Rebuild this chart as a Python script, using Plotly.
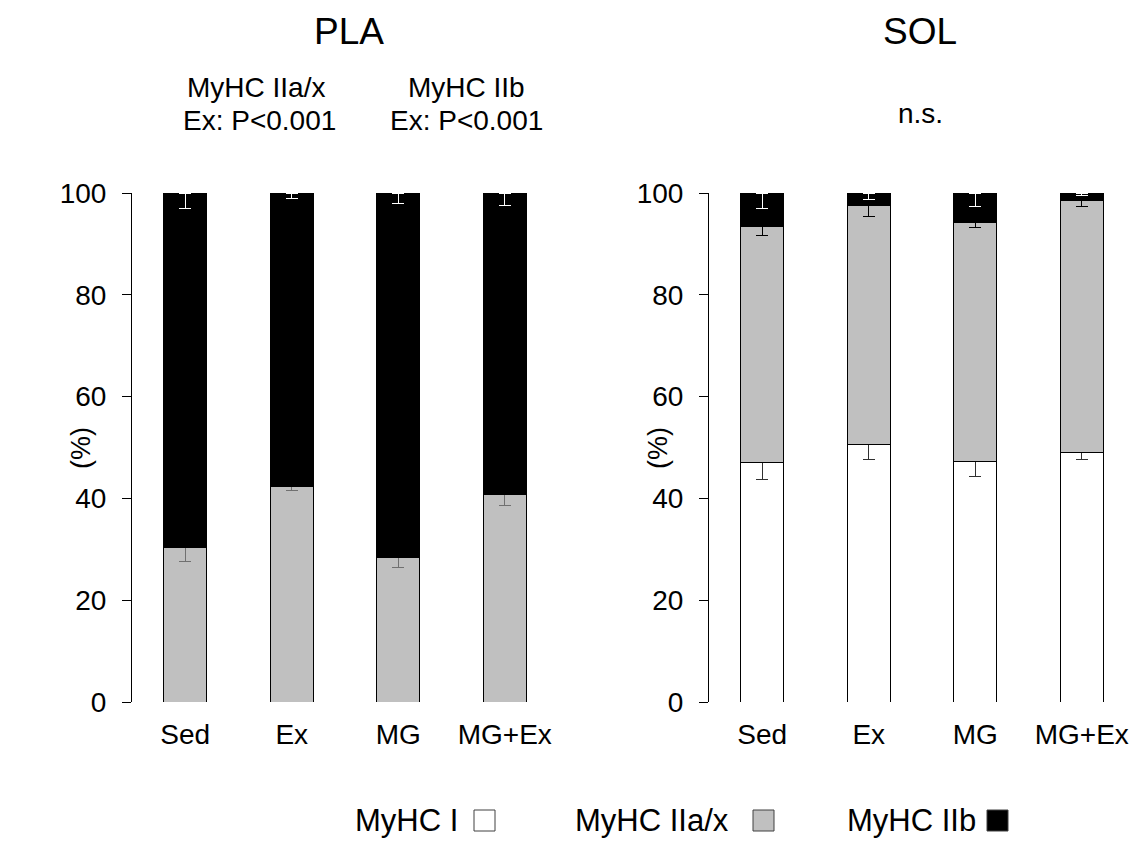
import plotly.graph_objects as go

# ---- data ----
groups = ["Sed", "Ex", "MG", "MG+Ex"]
y_ticks = [0, 20, 40, 60, 80, 100]

pla_IIax = [30.4, 42.3, 28.3, 40.8]
pla_IIax_err = [2.8, 0.8, 1.9, 2.1]
pla_IIb = [69.6, 57.7, 71.7, 59.2]
pla_IIb_err = [3.1, 1.0, 2.1, 2.4]

sol_I = [47.0, 50.5, 47.3, 49.0]
sol_I_err = [3.3, 2.8, 2.9, 1.3]
sol_IIax = [46.5, 47.0, 47.0, 49.6]
sol_IIax_err = [1.8, 2.1, 1.1, 1.3]
sol_IIb = [6.5, 2.5, 5.7, 1.4]
sol_IIb_err = [3.0, 1.3, 2.6, 0.5]

series_names = ["MyHC I", "MyHC IIa/x", "MyHC IIb"]
fill_colors = ["#ffffff", "#c0c0c0", "#000000"]

FONT = "Arial, Liberation Sans, sans-serif"
W, H = 1145, 843
OFF = 8  # page body offset


def px_x(p):
    return (p - OFF) / W


def px_y(p):
    return 1 - (p - OFF) / H


fig = go.Figure()


def add_bar(vals, errs, name, fill, ecolor, xaxis, yaxis):
    fig.add_trace(go.Bar(
        x=groups, y=vals, name=name, width=0.4,
        marker=dict(color=fill, line=dict(color="#000000", width=1)),
        error_y=dict(type="data", symmetric=False, array=[0] * len(errs),
                     arrayminus=errs, color=ecolor, thickness=1, width=6),
        xaxis=xaxis, yaxis=yaxis, showlegend=False,
    ))


# PLA panel
add_bar(pla_IIax, pla_IIax_err, series_names[1], fill_colors[1], "#707070", "x", "y")
add_bar(pla_IIb, pla_IIb_err, series_names[2], fill_colors[2], "#ffffff", "x", "y")
# SOL panel
add_bar(sol_I, sol_I_err, series_names[0], fill_colors[0], "#303030", "x2", "y2")
add_bar(sol_IIax, sol_IIax_err, series_names[1], fill_colors[1], "#000000", "x2", "y2")
add_bar(sol_IIb, sol_IIb_err, series_names[2], fill_colors[2], "#ffffff", "x2", "y2")

xaxis_common = dict(showline=False, ticks="", showgrid=False, zeroline=False,
                    tickfont=dict(family=FONT, size=28, color="#000"),
                    range=[-0.5, 3.5], ticklabelstandoff=13, automargin=False)
yaxis_common = dict(showline=True, linecolor="#000", linewidth=1,
                    ticks="outside", ticklen=9, tickcolor="#000", tickwidth=1,
                    showgrid=False, zeroline=False, range=[0, 100],
                    tickvals=y_ticks,
                    tickfont=dict(family=FONT, size=28, color="#000"),
                    ticklabelstandoff=10, automargin=False)

fig.update_layout(
    width=W, height=H,
    margin=dict(l=0, r=0, t=0, b=0, autoexpand=False),
    paper_bgcolor="white", plot_bgcolor="white",
    barmode="stack", bargap=0.6,
    showlegend=False,
    xaxis=dict(domain=[px_x(132), px_x(558)], anchor="y", **xaxis_common),
    yaxis=dict(domain=[px_y(702), px_y(193)], anchor="x", **yaxis_common),
    xaxis2=dict(domain=[px_x(709), px_x(1135)], anchor="y2", **xaxis_common),
    yaxis2=dict(domain=[px_y(702), px_y(193)], anchor="x2", **yaxis_common),
)

annots = []


def txt(text, x, y, size, **kw):
    annots.append(dict(text=text, x=px_x(x), y=px_y(y), xref="paper", yref="paper",
                       showarrow=False, xanchor=kw.get("xanchor", "center"),
                       yanchor="middle", textangle=kw.get("angle", 0),
                       font=dict(family=FONT, size=size, color="#000")))


# panel titles
txt("PLA", 349, 31, 37)
txt("SOL", 920, 31, 37)
# statistics
txt("MyHC IIa/x", 256, 87.5, 28)
txt("Ex: P<0.001", 259, 120.5, 28)
txt("MyHC IIb", 466, 87.5, 28)
txt("Ex: P<0.001", 466, 120.5, 28)
txt("n.s.", 920, 113, 28)
# y titles
txt("(%)", 81, 448, 27, angle=-90)
txt("(%)", 658, 448, 27, angle=-90)

# legend (text followed by swatch)
legend_text_x = [353, 573, 845]
legend_box_x = [474, 753, 987]
shapes = []
for name, tx, bx, col in zip(series_names, legend_text_x, legend_box_x, fill_colors):
    txt(name, tx, 820, 31, xanchor="left")
    shapes.append(dict(type="rect", xref="paper", yref="paper",
                       x0=px_x(bx), x1=px_x(bx + 21), y0=px_y(831), y1=px_y(810),
                       fillcolor=col, line=dict(color="#404040", width=1)))

fig.update_layout(annotations=annots, shapes=shapes)
fig.write_html("out.html")
